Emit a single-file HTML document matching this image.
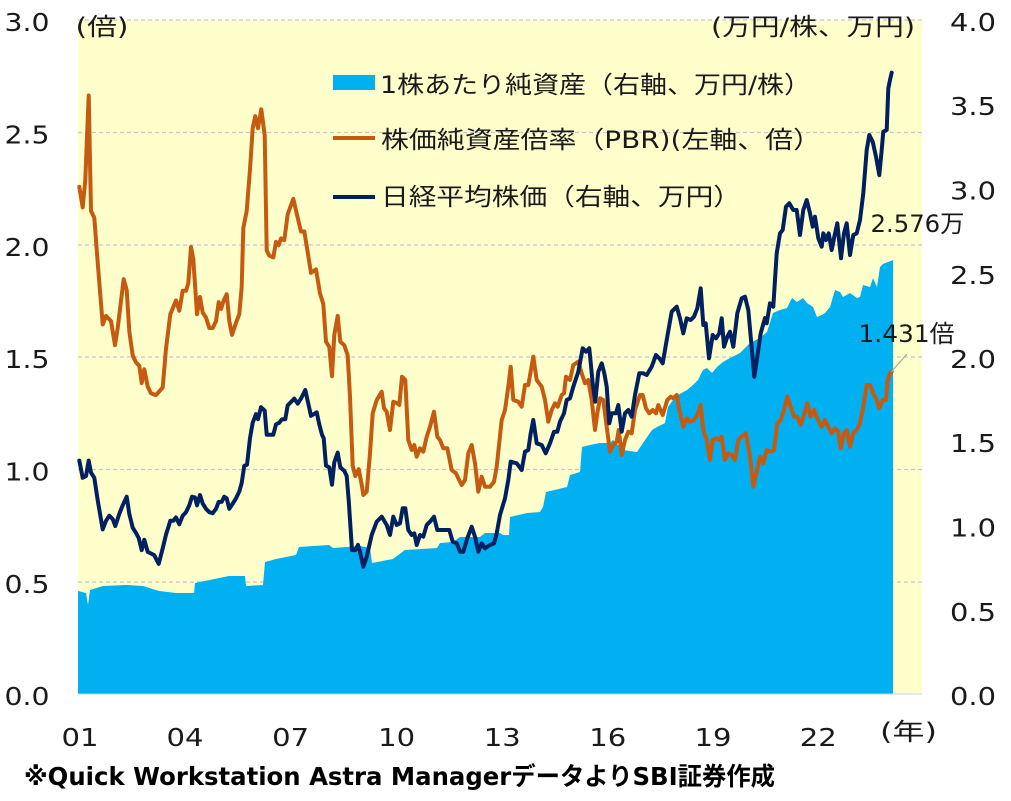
<!DOCTYPE html>
<html><head><meta charset="utf-8"><style>
html,body{margin:0;padding:0;background:#fff;}
svg{display:block;}
.n{font-family:"DejaVu Sans","Liberation Sans",sans-serif;font-size:25px;fill:#1a1a1a;}
.j{font-family:"DejaVu Sans","Noto Sans CJK JP",sans-serif;font-size:24px;fill:#1a1a1a;}
</style></head><body>
<svg width="1011" height="801" viewBox="0 0 1011 801" xmlns="http://www.w3.org/2000/svg">
<rect x="0" y="0" width="1011" height="801" fill="#fff"/>
<rect x="78" y="20" width="844" height="674" fill="#FFFFCC"/>
<g stroke="#C6C6CF" stroke-width="1.2" stroke-dasharray="4,3">
<line x1="78" y1="20" x2="922" y2="20"/>
<line x1="78" y1="132.5" x2="922" y2="132.5"/>
<line x1="78" y1="245" x2="922" y2="245"/>
<line x1="78" y1="357" x2="922" y2="357"/>
<line x1="78" y1="469.5" x2="922" y2="469.5"/>
<line x1="78" y1="582" x2="922" y2="582"/>
</g>
<polygon fill="#00B0F0" points="78,694 78,591 86,593 88,605 90,590 103,586 126,585 143,586 159,591 176,593 194,593 195,583 229,576 245,576 246,586 263,585 265,562 276,559 296,555 299,547 329,545 333,548 360,546 370,548 372,563 393,559 405,550 437,548 440,543 453,542 460,537 480,537 485,533 500,533 503,535 509,535 510,517 527,513 540,512 543,507 546,492 567,487 570,475 580,472 582,447 590,445 600,443 610,443 613,440 623,450 637,452 643,443 652,430 657,427 665,423 668,407 673,400 678,395 687,390 693,385 698,380 703,370 707,368 712,373 717,367 723,362 730,358 740,353 750,343 760,338 767,332 773,313 780,310 787,308 792,298 797,302 803,298 807,303 813,307 817,317 822,315 825,313 830,307 835,290 840,292 843,297 850,293 857,298 860,297 863,285 870,287 873,278 877,287 880,267 883,264 888,262 893,260 893,694"/>
<line x1="78" y1="694" x2="922" y2="694" stroke="#BDD7EE" stroke-width="1"/>
<polyline fill="none" stroke="#C55A11" stroke-width="4" stroke-linejoin="round" stroke-linecap="round" points="79.3,186.8 82.7,207.4 85.3,179.9 88.7,95.5 91,210.9 94.3,217.8 97.7,262.5 102.7,324.5 106,315.9 111,321.1 115,345.2 117.7,328 123.7,279.1 126.7,290.1 129.3,331.4 132.7,355.5 136,362.4 139.3,365.8 141.7,383.1 144.3,369.3 147.7,386.5 151,393.4 156,395.1 162.7,387.5 166,348.6 170.3,314.2 176,300.4 179.3,310.7 182.7,290.8 186,290.8 188.3,283.2 191,247 193.3,259.1 197,314.2 200,297 202.7,312.5 206,317.6 209.3,328 212.7,328 216,321.1 218.7,302.1 221,309 223.7,300.4 226.7,294.2 229.3,321.1 232,334.9 236,322.8 239.3,314.2 241.7,286.6 243.3,228.1 246.7,210.9 250,169.5 252.7,128.2 255.3,116.2 258,128.2 261.3,109.3 264.7,135.1 266.7,250.5 269.3,255.6 273.3,257.4 276,241.9 278.7,245.3 281,238.4 284.3,240.1 287.7,214.3 293.3,198.8 297.7,217.8 301,231.5 304.3,231.5 307.7,252.2 311,272.9 316,269.4 320,293.5 323.3,303.9 326,341.7 329.3,346.9 332,376.2 334.3,334.9 337.7,315.9 340.3,341.7 344.3,345.2 347.7,355.5 350,396.8 352.7,465.7 355.3,476 358.7,469.2 362,486.4 363.3,495 366.7,491.7 370,453.3 372.7,413.3 376.7,400 381.7,391.7 384,408.3 386.7,411.7 390,430 393.3,401.7 397.3,403.3 399.3,405 402,376.7 405.3,380 408.3,440 411.7,450 414.3,445 416.7,456.7 420,448.3 423.3,451.7 426.7,436.7 430,426.7 434,411.7 437.3,436.7 440,440 443.3,448.3 447.3,448.3 451.7,470 456,473.3 458.3,478.3 461.7,485 465,480 468.3,453.3 471.7,445 475,463.3 478.3,491.7 481.7,476.7 485,486.7 490,486.7 494,481.7 496.7,466.7 501.7,420 505,410 508.3,386.7 510.7,366.7 513.3,400 518.3,401.7 521.7,406.7 525,385 528.3,385 533.3,356.7 536.7,380 541.7,386.7 545,400 548.3,421.7 551.7,410 555,403.3 557.7,406.7 561.7,395 564,393.3 566,376.7 570,380 573.3,365 578.3,361.7 581.7,373.3 585,383.3 588.3,380 591.7,400 595,430 597.3,413.3 600,398.3 603.3,400 606.7,426.7 610,451.7 613.3,445 616.7,441.7 618.7,430 621.7,455 625,440 628.3,431.7 631.7,433.3 635,410 640,395 642.7,395 646,408.3 649.3,413.3 652.7,410 656,413.3 658.3,405 662.7,415 667.3,400 670.7,396.7 673.3,398.3 676.7,395 679.3,410 683.3,426.7 686.7,418.3 690,421.7 694,420 697.3,415 700.7,405 703.3,430 706.7,440 710,460 712.7,440 716,438.3 719.3,440 721.7,436.7 725,460 728.3,453.3 731.7,455 735,460 738.3,440 741.7,436.7 746,433.3 750,456.7 753.3,486.7 756.7,471.7 760,456.7 763.3,463.3 766.7,450 770.7,451.7 774,450 777.3,423.3 780.7,420 784,410 787.3,396.7 790.7,406.7 794,416.7 797.3,416.7 800.7,425 804,415 807.3,403.3 810.7,416.7 814,410 817.3,418.3 821.7,426.7 825,420 828.3,426.7 831.7,433.3 835,428.3 838.3,431.7 840.7,448.3 844,433.3 846.7,430 850,446.7 853.3,433.3 856.7,430 860,423.3 863.3,406.7 866.7,385 870,385 873.3,393.3 876.7,400 879.3,408.3 882.7,400 886,400 887.7,380 890,373.3 891.7,371.7"/>
<polyline fill="none" stroke="#002060" stroke-width="4" stroke-linejoin="round" stroke-linecap="round" points="79.3,460.6 82.7,477.8 86,476 88.7,460.6 91,472.6 94.3,477.8 97.7,500.2 102.7,529.4 106,520.8 109.3,515.7 112.7,519.1 115.3,526 119.3,513.9 122.7,505.3 126.7,496.7 129.3,513.9 132.7,527.7 136,532.9 138.7,538 141.7,550.1 144.3,539.8 147.7,551.8 151,553.5 154.3,555.3 158.7,563.9 162.7,548.4 166,534.6 170.3,520.8 173.3,520.8 176,517.4 179.3,524.3 182.7,515.7 186,512.2 189.3,505.3 192,496.7 195,497.4 197,505.3 200,495 202.7,503.6 206,508.8 209.3,512.2 212.7,513.2 216,508.8 218.7,501.9 221.7,501.9 224.3,496.7 226.7,498.4 229.3,508.8 232.7,503.6 236,498.4 239.3,491.5 241.7,482.9 244.3,465.7 247,464.7 250,438.2 252.7,422.7 256,414.1 258,419.2 261,407.2 264.7,410.6 266.7,434.7 269.3,434.7 273.3,434.7 276,424.4 279.3,422.7 282,419.2 285.3,419.2 287.7,405.4 291,402 294.3,398.6 297.7,403.7 301,398.6 305.3,390 308.3,403.7 311,415.8 316.7,412.3 319.3,424.4 322,434.7 323.7,438.2 326,465.7 329.3,467.4 332,484.7 334.3,462.3 337.7,452.6 340.3,467.4 344.3,470.9 346.7,476 348.7,500.2 352,550.1 355.3,550.1 358,544.9 360,551.8 363.3,566.7 366.7,556.7 371.7,535 376.7,521.7 381.7,516.7 386.7,525 390,535 393.3,516.7 396.7,525 400,523.3 402.7,508.3 405.3,508.3 408.3,530 411.7,535 414.3,533.3 416.7,545 420,535 423.3,536.7 426.7,525 430,521.7 434,516.7 437.3,530 441.7,530 446,530 449.3,530 452.7,541.7 456.7,543.3 460,551.7 463.3,551.7 467.3,538.3 471.7,526.7 475,536.7 478.3,551.7 481.7,543.3 485,548.3 490,545 494,543.3 496.7,533.3 500,515 505,498.3 508.3,480 510.7,461.7 516.7,463.3 521.7,470 525,451.7 528.3,450 530.7,433.3 533.3,420 536.7,443.3 541.7,445 545.7,453.3 550,443.3 554,431.7 557.3,431.7 560,421.7 564,413.3 566.7,400 570,398.3 573.3,386.7 578.3,371.7 582.7,348.3 586,351.7 589.3,348.3 592.7,383.3 595.3,401.7 598.3,371.7 601.7,363.3 604.3,373.3 606.7,386.7 609.3,423.3 611.7,413.3 616,413.3 618.3,405 621.7,431.7 625,413.3 628.3,410 631.7,416.7 635,395 639.3,373.3 643.3,373.3 646.7,375 651.7,366.7 656,355 659.3,358.3 662.7,363.3 666.7,340 671.7,311.7 676.7,306.7 680,318.3 683.3,333.3 686.7,318.3 690.7,320 694,316.7 697.3,308.3 700.7,288.3 703.3,325 705.7,323.3 709,358.3 712.7,335 716,338.3 719.3,333.3 721.7,318.3 724,346.7 727.3,336.7 730,331.7 733.3,346.7 737.3,313.3 741.7,298.3 745,296.7 748.3,310 751,340 754.3,376.7 757.3,356.7 760.7,333.3 765,318 766.7,323.3 770,303.3 773.3,306.7 776.7,253.3 780,233.3 782.7,230 786,206.7 789.3,203.3 793.3,210 796.7,210 800,235 803.3,210 806.7,200 810,213.3 812.7,226.7 815,216.7 818.3,238.3 821.7,246.7 823.3,233.3 826,240 828.7,233.3 831.7,250 834.3,236.7 837.3,223.3 841,258.3 844,233.3 846.7,223.3 850,255 853.3,235 856.7,233.3 860,220 863.3,193.3 866.7,150 869.3,135 872.7,141.7 876,156.7 879.3,175 881.7,150 883.3,131.7 886.7,130 888.3,88.3 890,80 891.7,72.7"/>
<line x1="891" y1="372" x2="907" y2="354" stroke="#A6A6A6" stroke-width="1.2"/>
<!-- legend -->
<rect x="333" y="75" width="42" height="15" fill="#00B0F0"/>
<line x1="333" y1="138" x2="375" y2="138" stroke="#C55A11" stroke-width="4"/>
<line x1="333" y1="197" x2="375" y2="197" stroke="#002060" stroke-width="4"/>
<text class="j" x="380" y="93" textLength="431" lengthAdjust="spacingAndGlyphs">1株あたり純資産（右軸、万円/株）</text>
<text class="j" x="381" y="148" textLength="440" lengthAdjust="spacingAndGlyphs">株価純資産倍率（PBR)(左軸、倍）</text>
<text class="j" x="381" y="205" textLength="360" lengthAdjust="spacingAndGlyphs">日経平均株価（右軸、万円）</text>
<!-- unit labels -->
<text class="j" x="75.5" y="35" font-size="23" textLength="53" lengthAdjust="spacingAndGlyphs">(倍)</text>
<text class="j" x="711" y="35" font-size="23" textLength="204" lengthAdjust="spacingAndGlyphs">(万円/株、万円)</text>
<text class="j" x="880" y="740" font-size="23" textLength="57" lengthAdjust="spacingAndGlyphs">(年)</text>
<text class="j" x="870.5" y="232" textLength="94" lengthAdjust="spacingAndGlyphs">2.576万</text>
<text class="j" x="858.5" y="342" textLength="96" lengthAdjust="spacingAndGlyphs">1.431倍</text>
<!-- left axis -->
<g class="n">
<text x="4.5" y="31" textLength="45" lengthAdjust="spacingAndGlyphs">3.0</text>
<text x="4.5" y="143.5" textLength="45" lengthAdjust="spacingAndGlyphs">2.5</text>
<text x="4.5" y="256" textLength="45" lengthAdjust="spacingAndGlyphs">2.0</text>
<text x="4.5" y="368" textLength="45" lengthAdjust="spacingAndGlyphs">1.5</text>
<text x="4.5" y="480.5" textLength="45" lengthAdjust="spacingAndGlyphs">1.0</text>
<text x="4.5" y="593" textLength="45" lengthAdjust="spacingAndGlyphs">0.5</text>
<text x="4.5" y="705" textLength="45" lengthAdjust="spacingAndGlyphs">0.0</text>
</g>
<!-- right axis -->
<g class="n">
<text x="950" y="31" textLength="46" lengthAdjust="spacingAndGlyphs">4.0</text>
<text x="950" y="115" textLength="46" lengthAdjust="spacingAndGlyphs">3.5</text>
<text x="950" y="199.5" textLength="46" lengthAdjust="spacingAndGlyphs">3.0</text>
<text x="950" y="284" textLength="46" lengthAdjust="spacingAndGlyphs">2.5</text>
<text x="950" y="368" textLength="46" lengthAdjust="spacingAndGlyphs">2.0</text>
<text x="950" y="452" textLength="46" lengthAdjust="spacingAndGlyphs">1.5</text>
<text x="950" y="536.5" textLength="46" lengthAdjust="spacingAndGlyphs">1.0</text>
<text x="950" y="621" textLength="46" lengthAdjust="spacingAndGlyphs">0.5</text>
<text x="950" y="705" textLength="46" lengthAdjust="spacingAndGlyphs">0.0</text>
</g>
<!-- x axis -->
<g class="n" font-size="26">
<text x="61.5" y="746" textLength="37" lengthAdjust="spacingAndGlyphs">01</text>
<text x="166.5" y="746" textLength="37" lengthAdjust="spacingAndGlyphs">04</text>
<text x="272.2" y="746" textLength="37" lengthAdjust="spacingAndGlyphs">07</text>
<text x="378.2" y="746" textLength="37" lengthAdjust="spacingAndGlyphs">10</text>
<text x="483.8" y="746" textLength="37" lengthAdjust="spacingAndGlyphs">13</text>
<text x="589.3" y="746" textLength="37" lengthAdjust="spacingAndGlyphs">16</text>
<text x="694.5" y="746" textLength="37" lengthAdjust="spacingAndGlyphs">19</text>
<text x="799.8" y="746" textLength="37" lengthAdjust="spacingAndGlyphs">22</text>
</g>
<text x="24" y="785" font-family="'DejaVu Sans','Noto Sans CJK JP',sans-serif" font-weight="bold" font-size="25" fill="#000" textLength="751" lengthAdjust="spacingAndGlyphs">※Quick Workstation Astra ManagerデータよりSBI証券作成</text>
</svg>
</body></html>
